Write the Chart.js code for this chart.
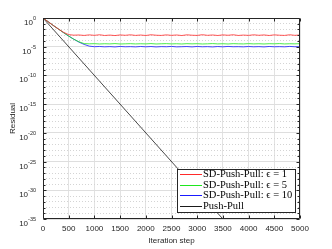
<!DOCTYPE html>
<html>
<head>
<meta charset="utf-8">
<script src="https://cdn.jsdelivr.net/npm/chart.js@4.4.1/dist/chart.umd.min.js"></script>
<style>
    html, body { margin: 0; padding: 0; background: #fff; }
    #wrap { width: 332px; height: 249px; }
</style>
</head>
<body>
<div id="wrap"><canvas id="residualChart" width="332" height="249"></canvas></div>
<script>
// Datos (paso de 100 iteraciones)
const iterations = [
    0, 100, 200, 300, 400, 500, 600, 700, 800, 900,
    1000, 1100, 1200, 1300, 1400, 1500, 1600, 1700, 1800, 1900,
    2000, 2100, 2200, 2300, 2400, 2500, 2600, 2700, 2800, 2900,
    3000, 3100, 3200, 3300, 3400, 3500, 3600, 3700, 3800, 3900,
    4000, 4100, 4200, 4300, 4400, 4500, 4600, 4700, 4800, 4900,
    5000
];
const residualEps1 = [
    1.0, 0.224, 0.0501, 0.012, 3.2e-3, 1.26e-3, 1.02e-3, 1.1e-3, 0.92e-3, 1.15e-3,
    0.95e-3, 1.2e-3, 0.9e-3, 1.05e-3, 0.88e-3, 1.12e-3, 0.97e-3, 1.18e-3, 0.93e-3, 1.08e-3,
    0.9e-3, 1.2e-3, 1.0e-3, 0.92e-3, 1.15e-3, 0.95e-3, 1.1e-3, 0.89e-3, 1.17e-3, 1.0e-3,
    0.93e-3, 1.22e-3, 0.96e-3, 1.1e-3, 0.9e-3, 1.14e-3, 0.98e-3, 1.2e-3, 0.91e-3, 1.06e-3,
    0.94e-3, 1.18e-3, 0.97e-3, 1.12e-3, 0.9e-3, 1.15e-3, 1.0e-3, 0.93e-3, 1.19e-3, 0.96e-3,
    1.1e-3
];
const residualEps5 = [
    1.0, 0.224, 0.0501, 0.012, 2.82e-3, 7.08e-4, 2.0e-4, 7.1e-5, 3.5e-5, 3.2e-5,
    3.4e-5, 3.0e-5, 3.3e-5, 3.1e-5, 3.5e-5, 3.0e-5, 3.2e-5, 3.4e-5, 3.05e-5, 3.3e-5,
    3.1e-5, 3.5e-5, 3.0e-5, 3.25e-5, 3.45e-5, 3.1e-5, 3.3e-5, 3.0e-5, 3.4e-5, 3.15e-5,
    3.35e-5, 3.0e-5, 3.2e-5, 3.5e-5, 3.1e-5, 3.3e-5, 3.0e-5, 3.4e-5, 3.2e-5, 3.05e-5,
    3.45e-5, 3.1e-5, 3.3e-5, 3.0e-5, 3.35e-5, 3.2e-5, 3.5e-5, 3.05e-5, 3.3e-5, 3.15e-5,
    3.4e-5
];
const residualEps10 = [
    1.0, 0.224, 0.0501, 0.012, 2.82e-3, 7.08e-4, 2.0e-4, 6.3e-5, 2.5e-5, 1.26e-5,
    1.0e-5, 1.1e-5, 0.95e-5, 1.05e-5, 0.92e-5, 1.12e-5, 0.97e-5, 1.03e-5, 0.93e-5, 1.1e-5,
    0.96e-5, 1.08e-5, 0.92e-5, 1.04e-5, 0.98e-5, 1.12e-5, 0.94e-5, 1.0e-5, 1.07e-5, 0.93e-5,
    1.1e-5, 0.97e-5, 1.03e-5, 0.92e-5, 1.08e-5, 0.95e-5, 1.12e-5, 0.98e-5, 1.02e-5, 0.94e-5,
    1.09e-5, 0.96e-5, 1.04e-5, 0.92e-5, 1.1e-5, 0.97e-5, 1.03e-5, 0.95e-5, 1.12e-5, 0.98e-5,
    1.02e-5
];
const pushPullIterations = [0, 5000];
const pushPullResidual = [1.0, 1e-50];

const seriesNames = [
    'SD-Push-Pull: \u03F5 = 1',
    'SD-Push-Pull: \u03F5 = 5',
    'SD-Push-Pull: \u03F5 = 10',
    'Push-Pull'
];
const seriesColors = ['#ff2a2a', '#1ee61e', '#1a1aff', '#1a1a1a'];

const xTicks = [0, 500, 1000, 1500, 2000, 2500, 3000, 3500, 4000, 4500, 5000];
const yTickExps = [0, -5, -10, -15, -20, -25, -30, -35];
const yMinExp = -35;
const yMaxExp = 0;

const AXIS_COLOR = '#262626';
const SANS = '"Liberation Sans", Arial, sans-serif';
const SERIF = '"Liberation Serif", "Times New Roman", serif';

function toPoints(xs, ys) {
    return xs.map((x, i) => ({ x: x, y: ys[i] }));
}

function decadeList() {
    const list = [];
    for (let e = yMinExp; e <= yMaxExp; e++) list.push(e);
    return list;
}

function isMajorExp(value) {
    const e = Math.round(Math.log10(value));
    return yTickExps.includes(e);
}

// Marco, marcas hacia dentro y etiquetas 10^n
const axesFrame = {
    id: 'axesFrame',
    afterDatasetsDraw(chart) {
        const { ctx, chartArea: a, scales } = chart;
        const l = Math.round(a.left) + 0.5;
        const r = Math.round(a.right) - 0.5;
        const t = Math.round(a.top) + 0.5;
        const b = Math.round(a.bottom) - 0.5;

        ctx.save();
        ctx.strokeStyle = AXIS_COLOR;
        ctx.lineWidth = 1;
        ctx.beginPath();
        ctx.rect(l, t, r - l, b - t);
        xTicks.forEach(v => {
            const x = Math.round(scales.x.getPixelForValue(v)) + 0.5;
            ctx.moveTo(x, b); ctx.lineTo(x, b - 3);
            ctx.moveTo(x, t); ctx.lineTo(x, t + 3);
        });
        decadeList().forEach(e => {
            const y = Math.round(scales.y.getPixelForValue(Math.pow(10, e))) + 0.5;
            const len = yTickExps.includes(e) ? 3 : 2;
            ctx.moveTo(l, y); ctx.lineTo(l + len, y);
            ctx.moveTo(r, y); ctx.lineTo(r - len, y);
        });
        ctx.stroke();

        // etiquetas del eje y
        ctx.fillStyle = AXIS_COLOR;
        ctx.textBaseline = 'alphabetic';
        ctx.textAlign = 'left';
        const rightEdge = a.left - 7;
        yTickExps.forEach(e => {
            const y = scales.y.getPixelForValue(Math.pow(10, e));
            const expText = String(e);
            ctx.font = '5.5px ' + SANS;
            const we = ctx.measureText(expText).width;
            ctx.font = '8px ' + SANS;
            const wb = ctx.measureText('10').width;
            ctx.fillText('10', rightEdge - we - wb, y + 7);
            ctx.font = '5.5px ' + SANS;
            ctx.fillText(expText, rightEdge - we, y + 2);
        });
        ctx.restore();
    },
    afterDraw(chart) {
        const { ctx } = chart;
        const box = { x: 177, y: 169, w: 119, h: 44 };
        ctx.save();
        ctx.fillStyle = '#ffffff';
        ctx.fillRect(box.x, box.y, box.w, box.h);
        ctx.strokeStyle = AXIS_COLOR;
        ctx.lineWidth = 1;
        ctx.strokeRect(box.x + 0.5, box.y + 0.5, box.w - 1, box.h - 1);
        ctx.font = '10.5px ' + SERIF;
        ctx.textBaseline = 'middle';
        ctx.textAlign = 'left';
        seriesNames.forEach((name, i) => {
            const y = box.y + 5 + i * 10.6;
            ctx.strokeStyle = seriesColors[i];
            ctx.lineWidth = 1;
            ctx.beginPath();
            ctx.moveTo(box.x + 3, Math.round(y) + 0.5);
            ctx.lineTo(box.x + 25, Math.round(y) + 0.5);
            ctx.stroke();
            ctx.fillStyle = '#000';
            ctx.fillText(name, box.x + 26, y + 0.5);
        });
        ctx.restore();
    }
};

const datasets = [
    toPoints(iterations, residualEps1),
    toPoints(iterations, residualEps5),
    toPoints(iterations, residualEps10),
    toPoints(pushPullIterations, pushPullResidual)
].map((pts, i) => ({
    label: seriesNames[i],
    data: pts,
    borderColor: seriesColors[i],
    borderWidth: 0.8,
    pointRadius: 0,
    fill: false,
    tension: 0
}));

Chart.defaults.font.family = SANS;
Chart.defaults.color = AXIS_COLOR;

new Chart(document.getElementById('residualChart').getContext('2d'), {
    type: 'line',
    data: { datasets: datasets },
    options: {
        responsive: false,
        animation: false,
        devicePixelRatio: 1,
        layout: { padding: { top: 18, right: 32, left: 0, bottom: 0 } },
        plugins: {
            legend: { display: false },
            tooltip: { enabled: false }
        },
        scales: {
            x: {
                type: 'linear',
                min: 0,
                max: 5000,
                afterBuildTicks: scale => {
                    scale.ticks = xTicks.map(v => ({ value: v }));
                },
                afterFit: scale => { scale.height = 30; },
                ticks: {
                    autoSkip: false,
                    maxRotation: 0,
                    padding: 5,
                    font: { size: 8 },
                    color: AXIS_COLOR,
                    callback: value => String(value)
                },
                grid: {
                    color: '#e2e2e2',
                    lineWidth: 1,
                    drawTicks: false
                },
                border: { display: false },
                title: {
                    display: true,
                    text: 'Iteration step',
                    font: { size: 8 },
                    color: AXIS_COLOR,
                    padding: { top: 0, bottom: 3 }
                }
            },
            y: {
                type: 'logarithmic',
                min: Math.pow(10, yMinExp),
                max: Math.pow(10, yMaxExp),
                afterBuildTicks: scale => {
                    scale.ticks = decadeList().map(e => ({ value: Math.pow(10, e) }));
                },
                afterFit: scale => { scale.width = 43; },
                ticks: { display: false },
                grid: {
                    color: ctx => (ctx.tick && isMajorExp(ctx.tick.value)) ? '#dedede' : '#d4d4d4',
                    lineWidth: 1,
                    drawTicks: false
                },
                border: {
                    display: false,
                    dash: ctx => (ctx.tick && !isMajorExp(ctx.tick.value)) ? [1, 2] : []
                },
                title: {
                    display: true,
                    text: 'Residual',
                    font: { size: 8 },
                    color: AXIS_COLOR,
                    padding: { top: 8, bottom: 0 }
                }
            }
        }
    },
    plugins: [axesFrame]
});
</script>
</body>
</html>
